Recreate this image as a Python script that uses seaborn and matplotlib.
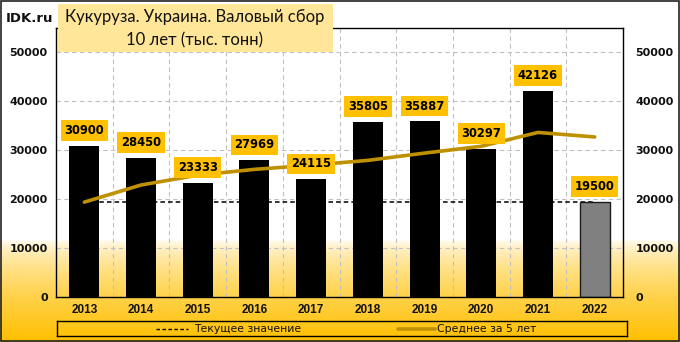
import numpy as np
import pandas as pd
import matplotlib
matplotlib.use("Agg")
import matplotlib.pyplot as plt
from matplotlib.patches import Rectangle
import seaborn as sns

years = ["2013", "2014", "2015", "2016", "2017", "2018", "2019", "2020", "2021", "2022"]
harvest = [30900, 28450, 23333, 27969, 24115, 35805, 35887, 30297, 42126, 19500]
avg5 = [19400, 22900, 24900, 26100, 26950, 27934, 29422, 30815, 33646, 32723]
current_value = 19500
yticks = [0, 10000, 20000, 30000, 40000, 50000]
title_line1 = "Кукуруза. Украина. Валовый сбор"
title_line2 = "10 лет (тыс. тонн)"
legend_labels = ["Текущее значение", "Среднее за 5 лет"]

sns.set_theme(style="white")
plt.rcParams["font.family"] = ["DejaVu Sans"]

W, H = 680, 342
fig = plt.figure(figsize=(W / 100, H / 100), dpi=100)

# background gradient (white -> gold)
bg = fig.add_axes([0, 0, 1, 1], zorder=-10)
ys = np.linspace(0, 1, 684)
ypx = (1 - ys) * H
frac = np.clip((ypx - 240) / (H - 240), 0, 1) ** 0.6
white = np.array([1.0, 1.0, 1.0])
gold = np.array([1.0, 0.75, 0.0])
cols = white[None, :] * (1 - frac[:, None]) + gold[None, :] * frac[:, None]
img = np.repeat(cols[:, None, :], 2, axis=1)
bg.imshow(img, aspect="auto", extent=[0, 1, 0, 1], origin="lower")
bg.set_axis_off()
bg.add_patch(Rectangle((0.001, 0.002), 0.997, 0.995, fill=False, edgecolor="#222222",
                       lw=1.2, transform=bg.transAxes))

ax = fig.add_axes([56 / W, 1 - 297 / H, (623 - 56) / W, (297 - 28) / H])
ax.patch.set_alpha(0)

df = pd.DataFrame({"year": years, "harvest": harvest, "avg5": avg5})
x = np.arange(len(years))

# current value dashed line (behind bars)
cur_df = pd.DataFrame({"x": [x[0], x[-1]], "y": [current_value, current_value]})
sns.lineplot(data=cur_df, x="x", y="y", ax=ax, color="black", lw=1.1,
             linestyle=(0, (3, 2)), zorder=1, legend=False)

bar_colors = ["#000000"] * (len(years) - 1) + ["#808080"]
sns.barplot(data=df, x="year", y="harvest", hue="year", palette=bar_colors,
            ax=ax, width=0.53, legend=False, zorder=2, saturation=1)
for i, p in enumerate(ax.patches):
    if i == len(years) - 1:
        p.set_edgecolor("#1a1a1a")
        p.set_linewidth(1.0)
    else:
        p.set_edgecolor("none")

sns.lineplot(x=x, y=avg5, ax=ax, color="#BF9000", lw=2.6, zorder=3, legend=False)

ax.set_xlim(-0.5, len(years) - 0.5)
ax.set_ylim(0, 55000)
ax.set_yticks(yticks)
ax.set_yticklabels([str(v) for v in yticks], fontweight="bold", fontsize=8,
                   color="#111111")
ax.set_xticks(x)
ax.set_xticklabels(years, fontweight="bold", fontsize=8.5, color="#111111",
                   family=["Liberation Sans", "DejaVu Sans"])
ax.set_xlabel("")
ax.set_ylabel("")
ax.tick_params(axis="both", length=0, pad=6)
ax.tick_params(axis="x", pad=5)

# gridlines
for v in yticks[1:]:
    ax.axhline(v, color="#C0C0C0", lw=0.8, linestyle=(0, (4, 3)), zorder=0)
for b in np.arange(0.5, len(years) - 0.5, 1):
    ax.axvline(b, color="#C0C0C0", lw=0.8, linestyle=(0, (4, 3)), zorder=0)

for s in ax.spines.values():
    s.set_color("black")
    s.set_linewidth(1.0)

ax2 = ax.twinx()
ax2.set_ylim(ax.get_ylim())
ax2.set_yticks(yticks)
ax2.set_yticklabels([str(v) for v in yticks], fontweight="bold", fontsize=8,
                    color="#111111")
ax2.tick_params(axis="y", length=0, pad=9)
ax2.patch.set_alpha(0)
for s in ax2.spines.values():
    s.set_visible(False)

# data labels
for xi, v in zip(x, harvest):
    ax.annotate(str(v), (xi, v), xytext=(0, 11), textcoords="offset points",
                ha="center", va="center", fontsize=8.3, fontweight="bold",
                color="black", zorder=5,
                bbox=dict(boxstyle="square,pad=0.32", fc="#FFC000", ec="none"))

# title box
fig.patches.append(Rectangle((58 / W, 1 - 52 / H), (333 - 58) / W, (52 - 4) / H,
                             transform=fig.transFigure, facecolor="#FFE699",
                             edgecolor="none", zorder=0))
fig.text(195 / W, 1 - 17 / H, title_line1, ha="center", va="center",
         fontsize=12, family=["Lato", "DejaVu Sans"], color="#111111")
fig.text(195 / W, 1 - 40 / H, title_line2, ha="center", va="center",
         fontsize=12, family=["Lato", "DejaVu Sans"], color="#111111")
fig.text(6 / W, 1 - 18 / H, "IDK.ru", ha="left", va="center", fontsize=9.5,
         fontweight="bold", color="#111111")

# legend
lg = fig.add_axes([57 / W, 1 - 336 / H, (627 - 57) / W, (336 - 321) / H])
lg.set_xlim(57, 627)
lg.set_ylim(0, 1)
lg.patch.set_alpha(0)
lg.set_xticks([])
lg.set_yticks([])
for s in lg.spines.values():
    s.set_color("black")
    s.set_linewidth(1.0)
lg.plot([156, 188], [0.5, 0.5], color="black", lw=1, linestyle=(0, (2.5, 1.8)))
lg.text(194, 0.45, legend_labels[0], va="center", ha="left", fontsize=7.8,
        color="#111111")
lg.plot([398, 435], [0.5, 0.5], color="#BF9000", lw=2.6)
lg.text(437, 0.45, legend_labels[1], va="center", ha="left", fontsize=7.8,
        color="#111111")

fig.savefig("out.png", dpi=100)
